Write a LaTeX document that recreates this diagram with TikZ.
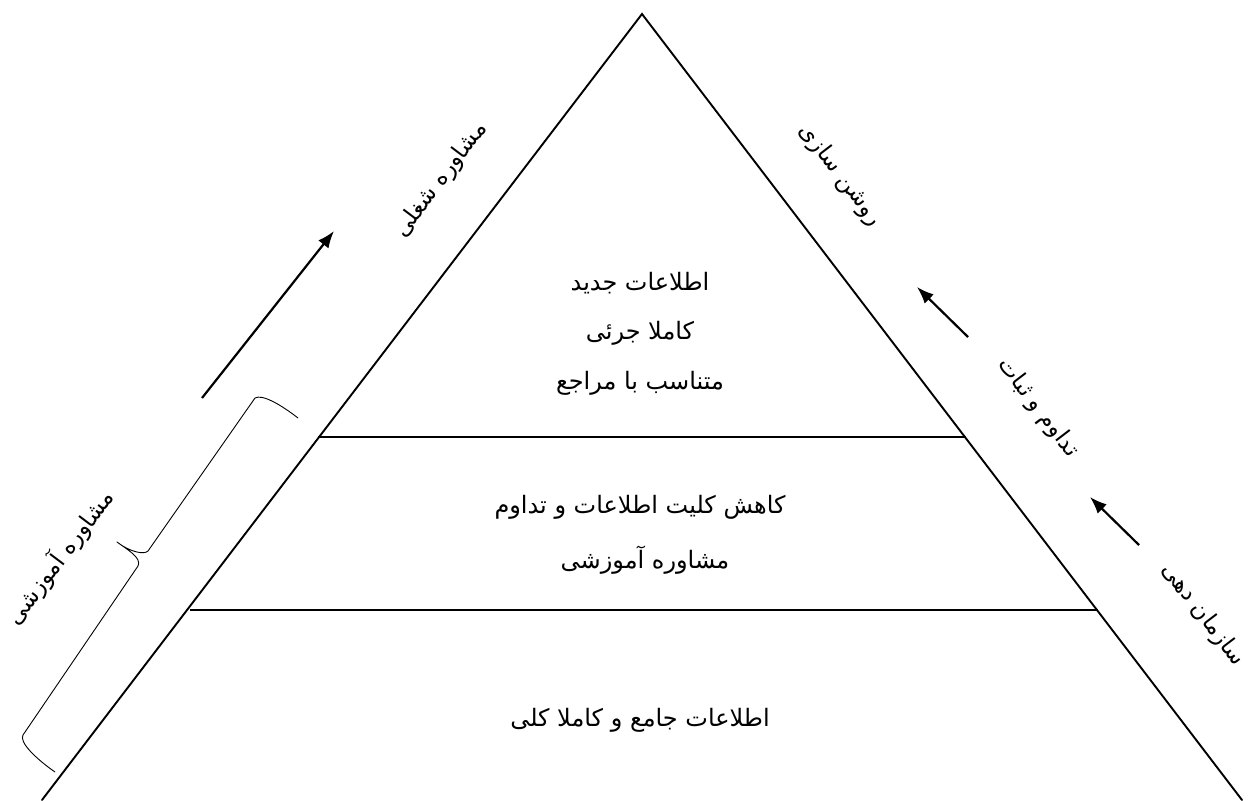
\documentclass[tikz,border=0pt]{standalone}
\usepackage{fontspec}
\usetikzlibrary{arrows.meta}
\newfontfamily\arabicfont[Script=Arabic]{DejaVu Sans}
\TeXXeTstate=1
\newcommand{\rtltext}[1]{{\arabicfont\beginR #1\endR}}
\tikzset{
  edge/.style={line width=1.9pt, line cap=round},
  level/.style={line width=1.9pt},
  arr/.style={line width=2.2pt, -{Latex[length=17pt,width=13pt]}},
  bracestyle/.style={line width=0.9pt, line join=round},
  lbl/.style={inner sep=0pt, font=\fontsize{24pt}{28pt}\selectfont},
  rlbl/.style={inner sep=0pt, font=\fontsize{23pt}{27pt}\selectfont},
}
\begin{document}
\begin{tikzpicture}[x=1pt,y=-1pt]
\useasboundingbox (0,0) rectangle (1252,800);
% triangle
\coordinate (apex) at (642,14);
\coordinate (bl) at (42,800);
\coordinate (br) at (1242,800);
\draw[edge] (bl) -- (apex) -- (br);
% level lines
\coordinate (l1a) at (318,437);
\coordinate (l1b) at (966,437);
\coordinate (l2a) at (190,610);
\coordinate (l2b) at (1098,610);
\draw[level] (l1a) -- (l1b);
\draw[level] (l2a) -- (l2b);
% arrows
\coordinate (a1s) at (202,398);
\coordinate (a1e) at (334,231);
\coordinate (a2s) at (968,337);
\coordinate (a2e) at (917,287);
\coordinate (a3s) at (1139,545);
\coordinate (a3e) at (1090,497);
\draw[arr] (a1s) -- (a1e);
\draw[arr] (a2s) -- (a2e);
\draw[arr] (a3s) -- (a3e);
% brace
\coordinate (b1) at (298,418);
\coordinate (b6) at (55,772);
\draw[bracestyle] (b1) .. controls (280,404) and (262,394) .. (255,398)
  -- (148,551) .. controls (144,555) and (130,552) .. (117,542)
  .. controls (128,550) and (142,558) .. (138,566)
  -- (23,735) .. controls (19,742) and (35,758) .. (b6);
% centre texts
\node[lbl] (t1) at (640,283) {\rtltext{اطلاعات جدید}};
\node[lbl] (t2) at (640,333) {\rtltext{کاملا جرئی}};
\node[lbl] (t3) at (640,383) {\rtltext{متناسب با مراجع}};
\node[lbl] (t4) at (640,507) {\rtltext{کاهش کلیت اطلاعات و تداوم}};
\node[lbl] (t5) at (645,560) {\rtltext{مشاوره آموزشی}};
\node[lbl] (t6) at (640,720) {\rtltext{اطلاعات جامع و کاملا کلی}};
% rotated texts
\node[rlbl, rotate=53] (r1) at (441,180) {\rtltext{مشاوره شغلی}};
\node[rlbl, rotate=53] (r2) at (60,557) {\rtltext{مشاوره آموزشی}};
\node[rlbl, rotate=-52.6] (r3) at (840,175) {\rtltext{روشن سازی}};
\node[rlbl, rotate=-52.6] (r4) at (1038,408) {\rtltext{تداوم و ثبات}};
\node[rlbl, rotate=-52.6] (r5) at (1203,615) {\rtltext{سازمان دهی}};
\end{tikzpicture}
\end{document}
